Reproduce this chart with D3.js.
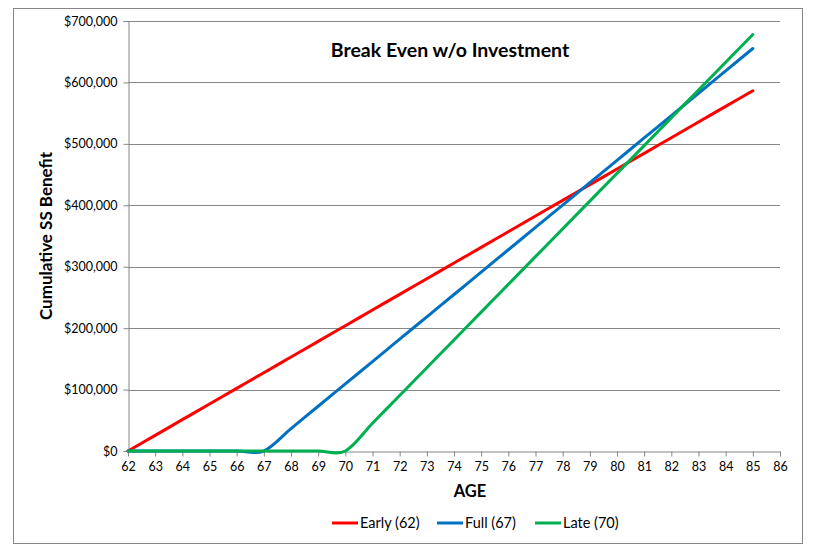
<!DOCTYPE html>
<html>
<head>
<meta charset="utf-8">
<script src="https://cdn.jsdelivr.net/npm/d3@7"></script>
<style>
  body { margin: 0; background: #fff; }
  text { font-family: Lato, "Open Sans", sans-serif; }
</style>
</head>
<body>
<svg id="chart" width="814" height="550"></svg>
<script>
const ages = [62,63,64,65,66,67,68,69,70,71,72,73,74,75,76,77,78,79,80,81,82,83,84,85];
const early = [0,25500,51000,76500,102000,127500,153000,178500,204000,229500,255000,280500,306000,331500,357000,382500,408000,433500,459000,484500,510000,535500,561000,586500];
const full = [0,0,0,0,0,0,36400,72800,109200,145600,182000,218400,254800,291200,327600,364000,400400,436800,473200,509600,546000,582400,618800,655200];
const late = [0,0,0,0,0,0,0,0,0,45200,90400,135600,180800,226000,271200,316400,361600,406800,452000,497200,542400,587600,632800,678000];
const seriesNames = ["Early (62)", "Full (67)", "Late (70)"];
const seriesColors = ["#FF0000", "#0070C0", "#00B050"];
const xTicks = d3.range(62, 87);
const yTicks = [0,100000,200000,300000,400000,500000,600000,700000];
const title = "Break Even w/o Investment";
const xTitle = "AGE";
const yTitle = "Cumulative SS Benefit";

const svg = d3.select("#chart");
const x = d3.scaleLinear().domain([62, 86]).range([128, 780]);
const y = d3.scaleLinear().domain([0, 700000]).range([451, 21]);

// outer border
svg.append("rect").attr("x", 13.5).attr("y", 8.5).attr("width", 789).attr("height", 535)
  .attr("fill", "#fff").attr("stroke", "#868686").attr("stroke-width", 1);

// gridlines
svg.append("g").selectAll("line").data(yTicks.filter(d => d > 0)).join("line")
  .attr("x1", x(62)).attr("x2", x(86))
  .attr("y1", d => Math.round(y(d)) + 0.5).attr("y2", d => Math.round(y(d)) + 0.5)
  .attr("stroke", "#868686").attr("stroke-width", 1);

// y axis
const yAxis = svg.append("g").attr("transform", `translate(${x(62) + 0.5},0)`)
  .call(d3.axisLeft(y).tickValues(yTicks).tickSize(5).tickPadding(6)
    .tickFormat(d => "$" + d3.format(",")(d)));
yAxis.select(".domain").attr("stroke", "#868686");
yAxis.selectAll(".tick line").attr("stroke", "#868686");
yAxis.selectAll("text").attr("font-size", 12.5).attr("fill", "#000");

// x axis
const xAxis = svg.append("g").attr("transform", `translate(0,${y(0) + 0.5})`)
  .call(d3.axisBottom(x).tickValues(xTicks).tickSize(5).tickPadding(6).tickSizeOuter(0)
    .tickFormat(d3.format("d")));
xAxis.select(".domain").attr("stroke", "#868686");
xAxis.selectAll(".tick line").attr("stroke", "#868686");
xAxis.selectAll("text").attr("font-size", 12.5).attr("fill", "#000");

// lines
const data = [early, full, late];
const line = d3.line().x((d, i) => x(ages[i])).y(d => y(d)).curve(d3.curveCardinal.tension(0));
svg.append("g").selectAll("path").data(data).join("path")
  .attr("d", d => line(d))
  .attr("fill", "none")
  .attr("stroke", (d, i) => seriesColors[i])
  .attr("stroke-width", 3)
  .attr("stroke-linejoin", "round")
  .attr("stroke-linecap", "round");

// titles
svg.append("text").attr("x", 450).attr("y", 57).attr("text-anchor", "middle")
  .attr("font-size", 19.5).attr("font-weight", "bold").text(title);
svg.append("text").attr("x", 470).attr("y", 497).attr("text-anchor", "middle")
  .attr("font-size", 16.5).attr("font-weight", "bold").text(xTitle);
svg.append("text").attr("transform", "translate(52,236) rotate(-90)").attr("text-anchor", "middle")
  .attr("font-size", 17).attr("font-weight", "bold").text(yTitle);

// legend
const legendX = [332, 437, 535];
const lg = svg.append("g").selectAll("g").data(seriesNames).join("g")
  .attr("transform", (d, i) => `translate(${legendX[i]},523)`);
lg.append("line").attr("x1", 0).attr("x2", 26).attr("y1", 0).attr("y2", 0)
  .attr("stroke", (d, i) => seriesColors[i]).attr("stroke-width", 3);
lg.append("text").attr("x", 28).attr("y", 5).attr("font-size", 14.5).text(d => d);
</script>
</body>
</html>
